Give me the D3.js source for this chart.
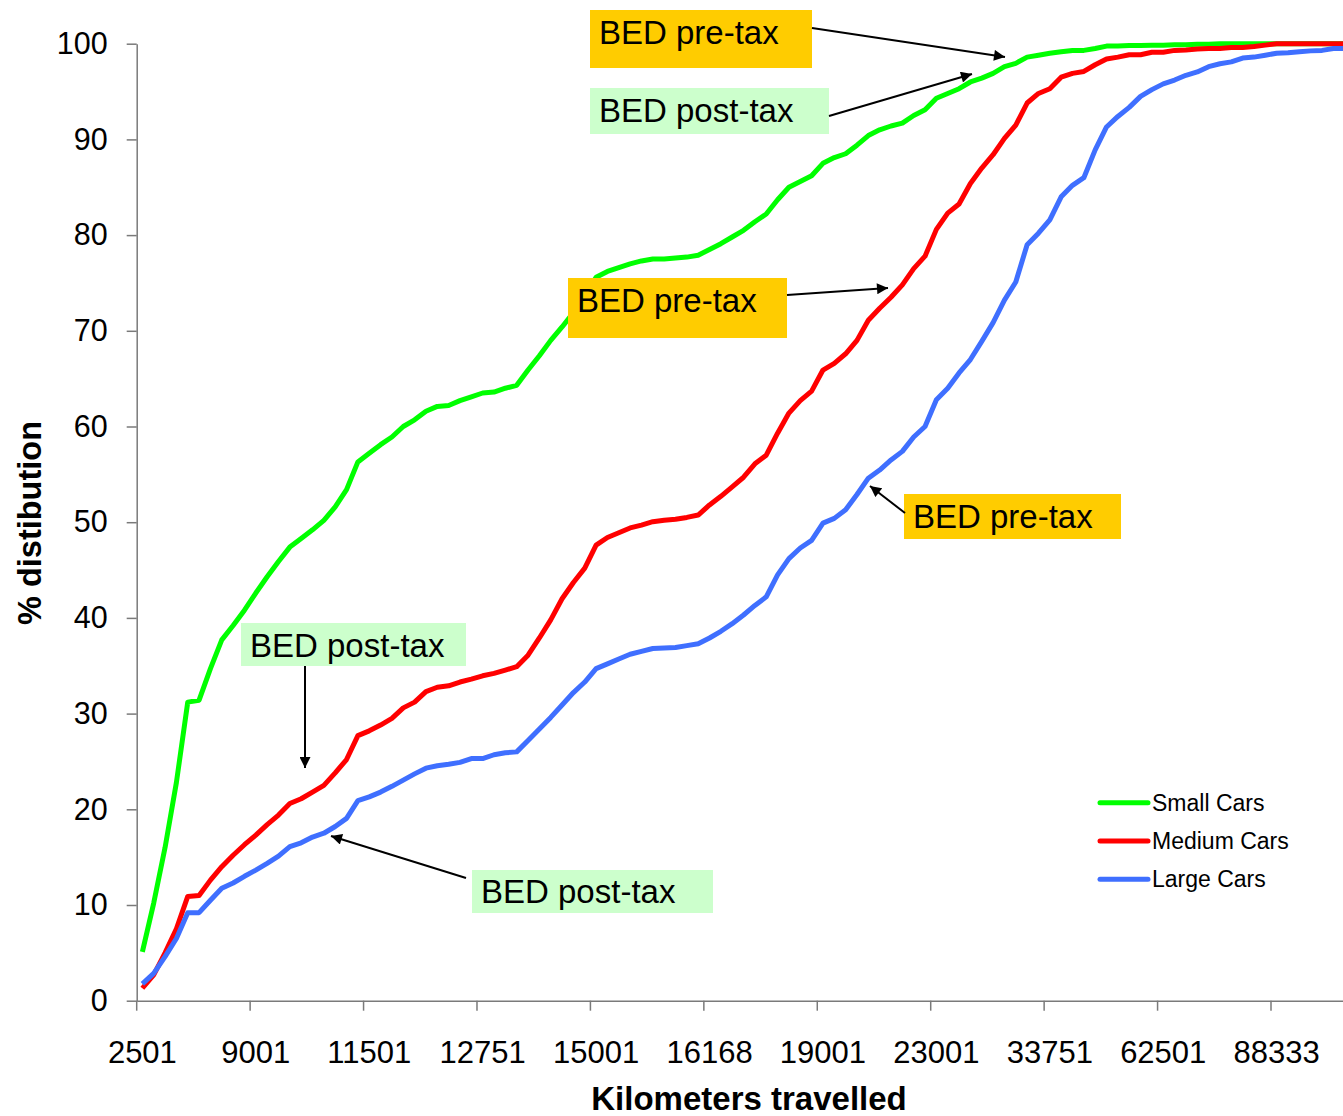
<!DOCTYPE html>
<html>
<head>
<meta charset="utf-8">
<script src="https://cdn.jsdelivr.net/npm/d3@7/dist/d3.min.js"></script>
<style>
  html, body { margin: 0; padding: 0; background: #fff; }
  svg { display: block; font-family: Arial, "Liberation Sans", sans-serif; }
</style>
</head>
<body>
<svg id="chart" width="1343" height="1116"></svg>
<script>
// ---------- DATA ----------
const categoryCount = 107;                       // number of kilometre classes on the x axis
const tickEvery = 10;                            // a label every 10 classes
const tickLabels = ["2501","9001","11501","12751","15001","16168","19001","23001","33751","62501","88333"];
const yTicks = [0,10,20,30,40,50,60,70,80,90,100];

const smallCars = [5.1,10.2,16.0,22.8,31.2,31.4,34.7,37.7,39.2,40.8,
  42.6,44.3,45.9,47.4,48.3,49.2,50.2,51.6,53.4,56.3,
  57.2,58.1,58.9,60.0,60.7,61.6,62.1,62.2,62.7,63.1,
  63.5,63.6,64.0,64.3,65.9,67.4,69.0,70.4,71.9,73.7,
  75.6,76.2,76.6,77.0,77.3,77.5,77.5,77.6,77.7,77.9,
  78.5,79.1,79.8,80.5,81.4,82.2,83.7,85.0,85.6,86.2,
  87.5,88.1,88.5,89.4,90.4,91.0,91.4,91.7,92.5,93.1,
  94.3,94.8,95.3,96.0,96.4,96.9,97.6,97.95,98.6,98.8,
  99.0,99.15,99.3,99.3,99.5,99.75,99.75,99.8,99.8,99.85,
  99.85,99.9,99.9,99.95,99.95,100,100,100,100,100,
  100,100,100,100,100,100,100];

const mediumCars = [1.3,2.7,5.0,7.5,10.9,11.0,12.6,14.0,15.2,16.3,
  17.3,18.4,19.4,20.6,21.1,21.8,22.5,23.8,25.2,27.7,
  28.2,28.8,29.5,30.6,31.2,32.3,32.75,32.9,33.3,33.6,
  33.95,34.2,34.55,34.9,36.1,37.9,39.8,42.0,43.7,45.2,
  47.6,48.4,48.9,49.4,49.7,50.05,50.2,50.3,50.5,50.75,
  51.8,52.7,53.7,54.7,56.1,57.0,59.3,61.4,62.7,63.7,
  65.9,66.6,67.6,69.0,71.1,72.35,73.5,74.8,76.5,77.8,
  80.6,82.3,83.25,85.4,87.0,88.4,90.1,91.5,93.8,94.8,
  95.3,96.5,96.9,97.1,97.8,98.4,98.6,98.85,98.85,99.1,
  99.1,99.3,99.35,99.45,99.5,99.5,99.6,99.6,99.7,99.85,
  100,100,100,100,100,100,100];

const largeCars = [1.75,2.85,4.6,6.5,9.2,9.2,10.5,11.75,12.3,13.0,
  13.65,14.35,15.1,16.1,16.5,17.1,17.5,18.2,19.05,20.9,
  21.3,21.8,22.4,23.05,23.7,24.3,24.55,24.7,24.9,25.3,
  25.3,25.7,25.9,26.0,27.2,28.4,29.6,30.9,32.2,33.3,
  34.7,35.2,35.7,36.2,36.5,36.8,36.85,36.9,37.1,37.3,
  37.9,38.6,39.4,40.3,41.3,42.2,44.5,46.2,47.3,48.1,
  49.9,50.4,51.3,52.9,54.6,55.45,56.5,57.4,58.9,60.0,
  62.8,64.0,65.6,67.0,68.9,70.85,73.2,75.1,79.0,80.2,
  81.6,84.0,85.2,86.0,88.9,91.3,92.4,93.35,94.5,95.2,
  95.8,96.2,96.7,97.05,97.6,97.9,98.1,98.5,98.6,98.8,
  99.0,99.05,99.15,99.25,99.3,99.5,99.5];

const seriesNames = ["Small Cars","Medium Cars","Large Cars"];
const seriesColors = ["#00ff00","#ff0000","#3f6fff"];
const seriesValues = [smallCars, mediumCars, largeCars];

const annotationTexts = ["BED pre-tax","BED post-tax","BED pre-tax","BED pre-tax","BED post-tax","BED post-tax"];

// ---------- LAYOUT ----------
const svg = d3.select("#chart");
const plotLeft = 136.7, plotTop = 43.7, plotBottom = 1000.7, bandW = 11.343;

const x = d3.scaleBand()
  .domain(d3.range(categoryCount))
  .range([plotLeft, plotLeft + bandW * categoryCount])
  .paddingInner(0).paddingOuter(0);
const y = d3.scaleLinear().domain([0,100]).range([plotBottom, plotTop]);
const cx = i => x(i) + x.bandwidth() / 2;

const axisColor = "#7a7a7a";

// Y axis
const yAxis = svg.append("g")
  .attr("transform", `translate(${plotLeft},0)`)
  .call(d3.axisLeft(y).tickValues(yTicks).tickSize(10).tickPadding(19).tickSizeOuter(0));
yAxis.select(".domain").attr("stroke", axisColor).attr("stroke-width", 1.5);
yAxis.selectAll(".tick line").attr("stroke", axisColor).attr("stroke-width", 1.5);
yAxis.selectAll("text").attr("font-size", 30.5).attr("fill", "#000")
  .attr("font-family", "Arial, 'Liberation Sans', sans-serif");

// X axis: labels centered on categories
const labelIdx = d3.range(0, categoryCount, tickEvery).filter(i => i / tickEvery < tickLabels.length);
const xAxis = svg.append("g")
  .attr("transform", `translate(0,${plotBottom})`)
  .call(d3.axisBottom(x).tickValues(labelIdx).tickFormat(i => tickLabels[i / tickEvery])
        .tickSize(0).tickPadding(40).tickSizeOuter(0));
xAxis.select(".domain").attr("stroke", axisColor).attr("stroke-width", 1.5);
xAxis.selectAll("text").attr("font-size", 31).attr("fill", "#000")
  .attr("font-family", "Arial, 'Liberation Sans', sans-serif");
// tick marks between categories
svg.append("g").selectAll("line").data(labelIdx).join("line")
  .attr("x1", i => x(i)).attr("x2", i => x(i))
  .attr("y1", plotBottom).attr("y2", plotBottom + 10)
  .attr("stroke", axisColor).attr("stroke-width", 1.5);

// Axis titles
svg.append("text")
  .attr("x", 749).attr("y", 1110)
  .attr("text-anchor", "middle").attr("font-weight", "bold").attr("font-size", 33)
  .text("Kilometers travelled");
svg.append("text")
  .attr("transform", "translate(41,523) rotate(-90)")
  .attr("text-anchor", "middle").attr("font-weight", "bold").attr("font-size", 32.5)
  .text("% distibution");

// Lines
const line = d3.line().x((d, i) => cx(i)).y(d => y(d));
seriesValues.forEach((vals, k) => {
  svg.append("path")
    .datum(vals)
    .attr("d", line)
    .attr("fill", "none")
    .attr("stroke", seriesColors[k])
    .attr("stroke-width", 5)
    .attr("stroke-linejoin", "round");
});

// Legend
const legend = svg.append("g");
seriesNames.forEach((name, k) => {
  const ly = 802.7 + k * 38.3;
  legend.append("line").attr("x1", 1100).attr("x2", 1148).attr("y1", ly).attr("y2", ly)
    .attr("stroke", seriesColors[k]).attr("stroke-width", 5).attr("stroke-linecap", "round");
  legend.append("text").attr("x", 1152).attr("y", ly).attr("dy", "0.35em")
    .attr("font-size", 23).text(name);
});

// Annotations
const defs = svg.append("defs");
defs.append("marker").attr("id", "arrow").attr("viewBox", "0 0 10 10")
  .attr("refX", 10).attr("refY", 5).attr("markerWidth", 13).attr("markerHeight", 11)
  .attr("markerUnits", "userSpaceOnUse").attr("orient", "auto")
  .append("path").attr("d", "M0,0 L10,5 L0,10 z").attr("fill", "#000");

const pre = "#ffcc00", post = "#ccffcc";
const notes = [
  {box:[590,10,222,58], fill:pre, tx:599, ty:44, arrow:[812,28,1005,57]},
  {box:[590,88,239,46], fill:post, tx:599, ty:122, arrow:[829,116,972,74]},
  {box:[568,278,219,60], fill:pre, tx:577, ty:312, arrow:[787,295,888,288]},
  {box:[904,494,217,45], fill:pre, tx:913, ty:528, arrow:[905,513,870,486]},
  {box:[241,623,225,43], fill:post, tx:250, ty:657, arrow:[305,666,305,768]},
  {box:[472,870,241,43], fill:post, tx:481, ty:903, arrow:[466,878,331,836]}
];
const ann = svg.append("g");
notes.forEach((n, k) => {
  ann.append("rect").attr("x", n.box[0]).attr("y", n.box[1])
    .attr("width", n.box[2]).attr("height", n.box[3]).attr("fill", n.fill);
  ann.append("text").attr("x", n.tx).attr("y", n.ty).attr("font-size", 33).text(annotationTexts[k]);
  ann.append("line").attr("x1", n.arrow[0]).attr("y1", n.arrow[1])
    .attr("x2", n.arrow[2]).attr("y2", n.arrow[3])
    .attr("stroke", "#000").attr("stroke-width", 2).attr("marker-end", "url(#arrow)");
});
</script>
</body>
</html>
